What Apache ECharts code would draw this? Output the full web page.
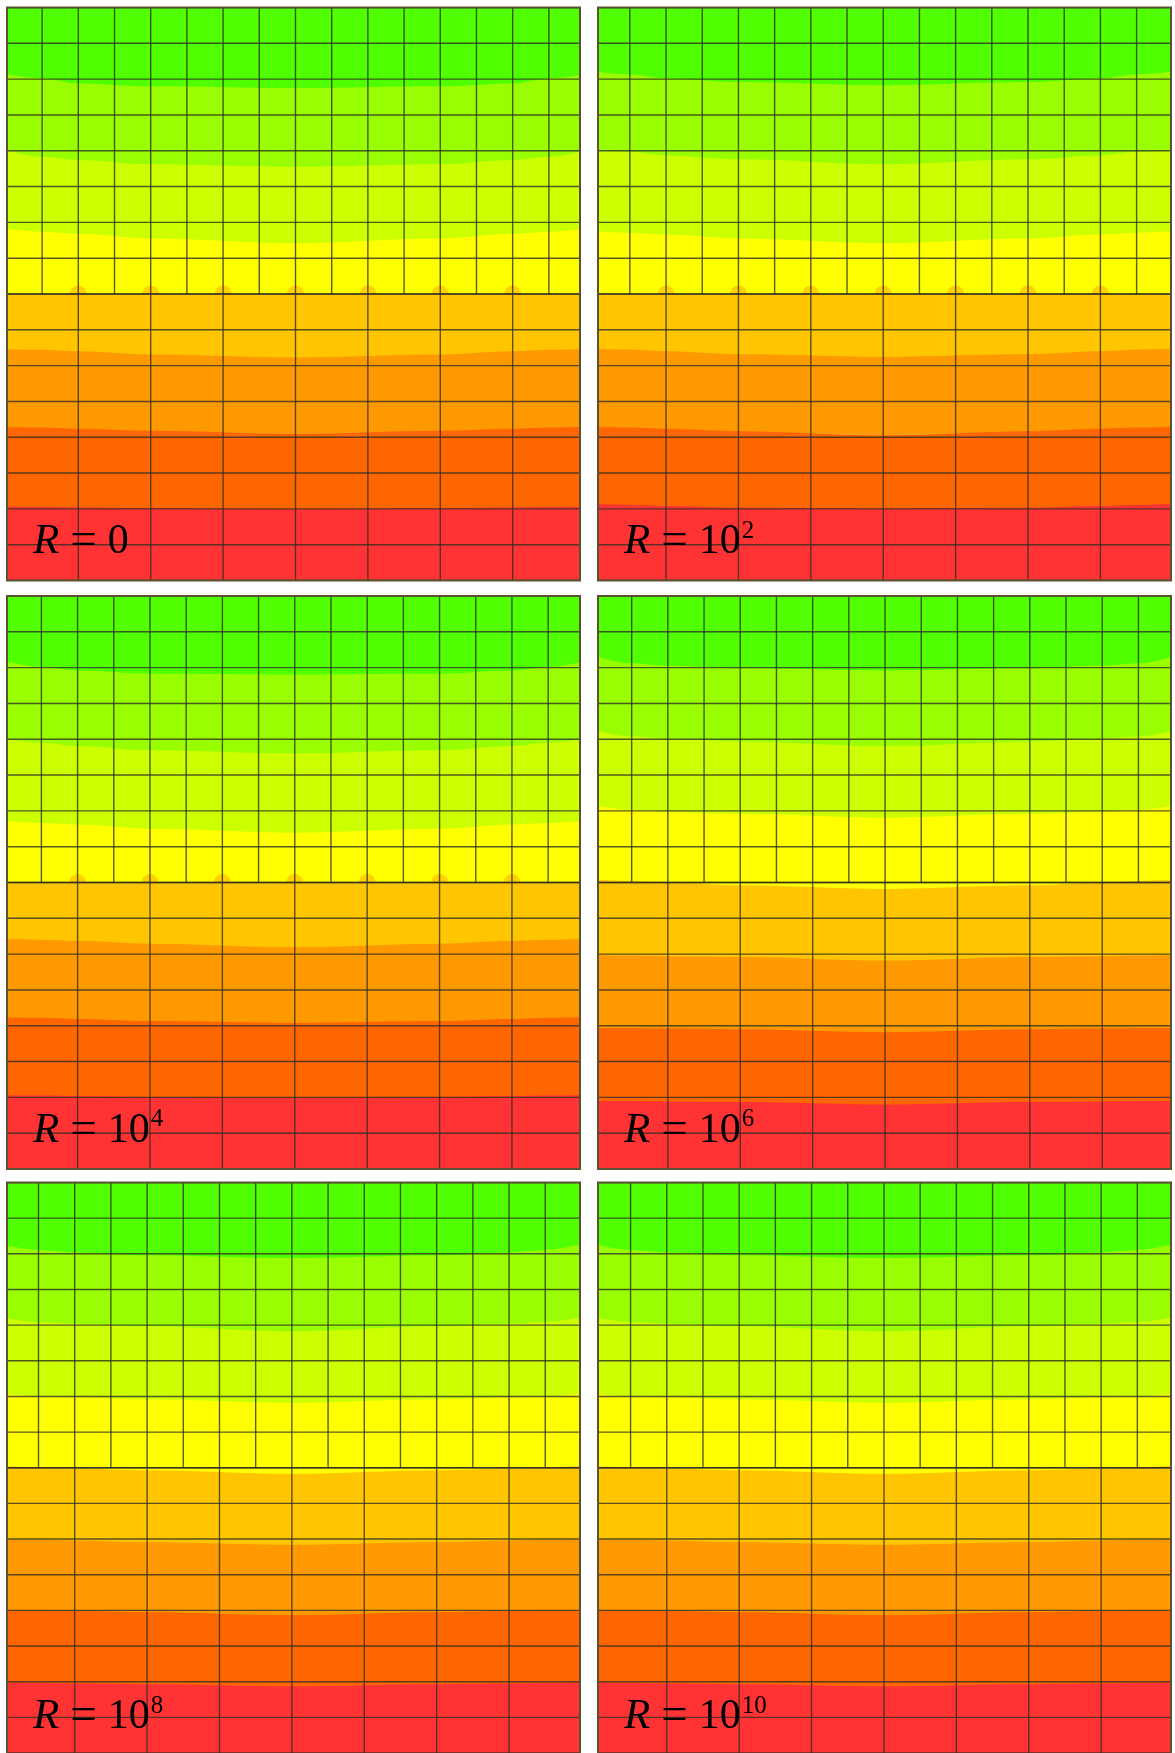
<!DOCTYPE html>
<html>
<head>
<meta charset="utf-8">
<script src="https://cdn.jsdelivr.net/npm/echarts@6/dist/echarts.min.js"></script>
<style>
  html, body { margin: 0; padding: 0; background: #ffffff; }
  #chart { width: 1175px; height: 1753px; }
</style>
</head>
<body>
<div id="chart"></div>
<script>
// Mesh: a fine block (16 x 8 cells) on top of a coarse block (8 x 8 cells),
// joined along y = 8 with hanging nodes.
const fineX   = [0, 1, 2, 3, 4, 5, 6, 7, 8, 9, 10, 11, 12, 13, 14, 15, 16];
const coarseX = [0, 2, 4, 6, 8, 10, 12, 14, 16];
const upperY  = [8, 9, 10, 11, 12, 13, 14, 15, 16];
const lowerY  = [0, 1, 2, 3, 4, 5, 6, 7, 8];
const interfaceY = 8;

// Abscissae at which each contour boundary is sampled
const sampleX = [0, 1, 2, 4, 8, 12, 14, 15, 16];

// Contour band colours, bottom band first
const bandColors = ['#ff3333', '#ff6600', '#ff9900', '#ffc600', '#ffff00', '#ccff00', '#99ff00', '#50ff00'];

// Contour boundaries (level 1 .. 7, bottom to top) for each value of R
const contoursR0 = [
  [2.06, 2.05, 2.04, 2.02, 2.00, 2.02, 2.04, 2.05, 2.06],
  [4.29, 4.27, 4.24, 4.18, 4.09, 4.18, 4.24, 4.27, 4.29],
  [6.46, 6.44, 6.40, 6.31, 6.23, 6.31, 6.40, 6.44, 6.46],
  [8.00, 8.00, 8.00, 8.00, 8.00, 8.00, 8.00, 8.00, 8.00],
  [9.82, 9.74, 9.68, 9.55, 9.42, 9.55, 9.68, 9.74, 9.82],
  [12.02, 11.83, 11.74, 11.62, 11.55, 11.62, 11.74, 11.83, 12.02],
  [14.14, 14.02, 13.88, 13.80, 13.75, 13.80, 13.88, 14.02, 14.14]
];
const contoursR2 = [
  [2.14, 2.11, 2.08, 2.03, 2.01, 2.03, 2.08, 2.11, 2.14],
  [4.29, 4.27, 4.24, 4.17, 4.05, 4.17, 4.24, 4.27, 4.29],
  [6.47, 6.45, 6.40, 6.32, 6.25, 6.32, 6.40, 6.45, 6.47],
  [8.00, 8.00, 8.00, 8.00, 8.00, 8.00, 8.00, 8.00, 8.00],
  [9.76, 9.71, 9.66, 9.55, 9.42, 9.55, 9.66, 9.71, 9.76],
  [12.02, 11.97, 11.87, 11.76, 11.62, 11.76, 11.87, 11.97, 12.02],
  [14.21, 14.13, 14.02, 13.92, 13.83, 13.92, 14.02, 14.13, 14.21]
];
const contoursR4 = [
  [2.06, 2.05, 2.03, 2.01, 1.98, 2.01, 2.03, 2.05, 2.06],
  [4.24, 4.22, 4.19, 4.13, 4.08, 4.13, 4.19, 4.22, 4.24],
  [6.43, 6.40, 6.37, 6.29, 6.19, 6.29, 6.37, 6.40, 6.43],
  [8.00, 8.00, 8.00, 8.00, 8.00, 8.00, 8.00, 8.00, 8.00],
  [9.73, 9.66, 9.62, 9.50, 9.39, 9.50, 9.62, 9.66, 9.73],
  [12.02, 11.90, 11.81, 11.69, 11.60, 11.69, 11.81, 11.90, 12.02],
  [14.18, 14.02, 13.92, 13.83, 13.81, 13.83, 13.92, 14.02, 14.18]
];
const contoursR6 = [
  [1.90, 1.89, 1.88, 1.87, 1.80, 1.87, 1.88, 1.89, 1.90],
  [3.94, 3.93, 3.92, 3.90, 3.82, 3.90, 3.92, 3.93, 3.94],
  [5.98, 5.96, 5.94, 5.92, 5.82, 5.92, 5.94, 5.96, 5.98],
  [8.08, 8.04, 8.01, 7.92, 7.82, 7.92, 8.01, 8.04, 8.08],
  [10.15, 10.03, 9.97, 9.92, 9.81, 9.92, 9.97, 10.03, 10.15],
  [12.25, 12.08, 12.02, 11.94, 11.81, 11.94, 12.02, 12.08, 12.25],
  [14.32, 14.12, 14.05, 13.98, 13.92, 13.98, 14.05, 14.12, 14.32]
];
const contoursR8 = [
  [1.98, 1.96, 1.95, 1.93, 1.87, 1.93, 1.95, 1.96, 1.98],
  [4.00, 3.99, 3.98, 3.95, 3.87, 3.95, 3.98, 3.99, 4.00],
  [5.99, 5.98, 5.96, 5.91, 5.84, 5.91, 5.96, 5.98, 5.99],
  [8.05, 8.01, 7.98, 7.93, 7.83, 7.93, 7.98, 8.01, 8.05],
  [10.08, 10.00, 9.97, 9.92, 9.82, 9.92, 9.97, 10.00, 10.08],
  [12.22, 12.09, 12.04, 11.97, 11.83, 11.97, 12.04, 12.09, 12.22],
  [14.26, 14.11, 14.04, 13.96, 13.88, 13.96, 14.04, 14.11, 14.26]
];
const contoursR10 = [
  [1.98, 1.96, 1.95, 1.93, 1.87, 1.93, 1.95, 1.96, 1.98],
  [4.00, 3.99, 3.98, 3.95, 3.87, 3.95, 3.98, 3.99, 4.00],
  [5.99, 5.98, 5.96, 5.91, 5.84, 5.91, 5.96, 5.98, 5.99],
  [8.05, 8.01, 7.98, 7.93, 7.83, 7.93, 7.98, 8.01, 8.05],
  [10.08, 10.00, 9.97, 9.92, 9.82, 9.92, 9.97, 10.00, 10.08],
  [12.22, 12.09, 12.04, 11.97, 11.83, 11.97, 12.04, 12.09, 12.22],
  [14.26, 14.11, 14.04, 13.96, 13.88, 13.96, 14.04, 14.11, 14.26]
];

// Panel captions: R = base^exp
const labelBase = ['0', '10', '10', '10', '10', '10'];
const labelExp  = ['', '2', '4', '6', '8', '10'];

// Left end of the visible x-range in each panel
const viewXMin = [0.03, 0.12, 0.05, 0.07, 0.13, 0.10];
// Whether the hanging-node artefacts show on the interface
const hangingBumps = [true, true, true, false, false, false];

const contourSets = [contoursR0, contoursR2, contoursR4, contoursR6, contoursR8, contoursR10];

// ---- layout ----
const panelSize = 573;
const viewXSpan = 15.83;
const colLeft = [7, 598];
const rowTop = [7.5, 596, 1182.5];

const meshColor = 'rgba(45, 45, 35, 0.78)';
const frameColor = '#5b5233';
const captionFont = 'Liberation Serif';

const grid = [], xAxis = [], yAxis = [], series = [], graphic = [];

contourSets.forEach(function (bounds, p) {
  const left = colLeft[p % 2];
  const top = rowTop[Math.floor(p / 2)];

  grid.push({
    left: left, top: top, width: panelSize, height: panelSize,
    show: true, backgroundColor: bandColors[7], borderWidth: 0
  });
  xAxis.push({ type: 'value', gridIndex: p, min: viewXMin[p], max: viewXMin[p] + viewXSpan, show: false });
  yAxis.push({ type: 'value', gridIndex: p, min: 0, max: 16, show: false });

  // Filled contours: each boundary fills downward, painted top boundary first
  for (let k = bounds.length - 1; k >= 0; k--) {
    series.push({
      type: 'line', xAxisIndex: p, yAxisIndex: p,
      data: sampleX.map(function (x, i) { return [x, bounds[k][i]]; }),
      smooth: 0.35, smoothMonotone: 'x',
      symbol: 'none', showSymbol: false,
      lineStyle: { width: 0, opacity: 0 },
      areaStyle: { color: bandColors[k], opacity: 1, origin: 'start' },
      silent: true, animation: false, z: 2
    });
  }

  if (hangingBumps[p]) {
    series.push({
      type: 'scatter', xAxisIndex: p, yAxisIndex: p,
      data: coarseX.map(function (x) { return [x, interfaceY]; }),
      symbol: 'circle', symbolSize: 17,
      itemStyle: { color: bandColors[3] },
      silent: true, animation: false, z: 2
    });
  }

  // Mesh edges
  const segs = [];
  fineX.forEach(function (x) { segs.push([x, interfaceY, x, 16]); });
  upperY.forEach(function (y) { segs.push([0, y, 16, y]); });
  coarseX.forEach(function (x) { segs.push([x, 0, x, interfaceY]); });
  lowerY.forEach(function (y) { segs.push([0, y, 16, y]); });

  series.push({
    type: 'custom', xAxisIndex: p, yAxisIndex: p,
    data: segs, clip: true, silent: true, animation: false, z: 3,
    encode: { x: [0, 2], y: [1, 3] },
    renderItem: function (params, api) {
      const a = api.coord([api.value(0), api.value(1)]);
      const b = api.coord([api.value(2), api.value(3)]);
      return {
        type: 'line',
        shape: { x1: a[0], y1: a[1], x2: b[0], y2: b[1] },
        style: { stroke: meshColor, lineWidth: 1.4 }
      };
    }
  });

  // Frame
  graphic.push({
    type: 'rect', z: 100, silent: true,
    shape: { x: left, y: top, width: panelSize, height: panelSize },
    style: { fill: 'none', stroke: frameColor, lineWidth: 2 }
  });

  // Caption
  const txt = '{it|R}{eq|=}{rm|' + labelBase[p] + '}' + (labelExp[p] ? '{sup|' + labelExp[p] + '}' : '');
  graphic.push({
    type: 'text', z: 101, silent: true,
    x: left + 26, y: top + 534.5,
    style: {
      text: txt,
      verticalAlign: 'middle',
      fill: '#000',
      rich: {
        it: { fontFamily: captionFont, fontStyle: 'italic', fontSize: 43, lineHeight: 46, fill: '#000' },
        eq: { fontFamily: captionFont, fontSize: 47, lineHeight: 46, padding: [0, 11, 0, 11], fill: '#000' },
        rm: { fontFamily: captionFont, fontSize: 42, lineHeight: 46, fill: '#000' },
        sup: { fontFamily: captionFont, fontSize: 25, lineHeight: 25, padding: [0, 0, 22, 1], fill: '#000' }
      }
    }
  });
});

const chart = echarts.init(document.getElementById('chart'), null, { renderer: 'canvas' });
chart.setOption({
  animation: false,
  backgroundColor: '#ffffff',
  grid: grid, xAxis: xAxis, yAxis: yAxis,
  series: series,
  graphic: graphic
});
</script>
</body>
</html>
